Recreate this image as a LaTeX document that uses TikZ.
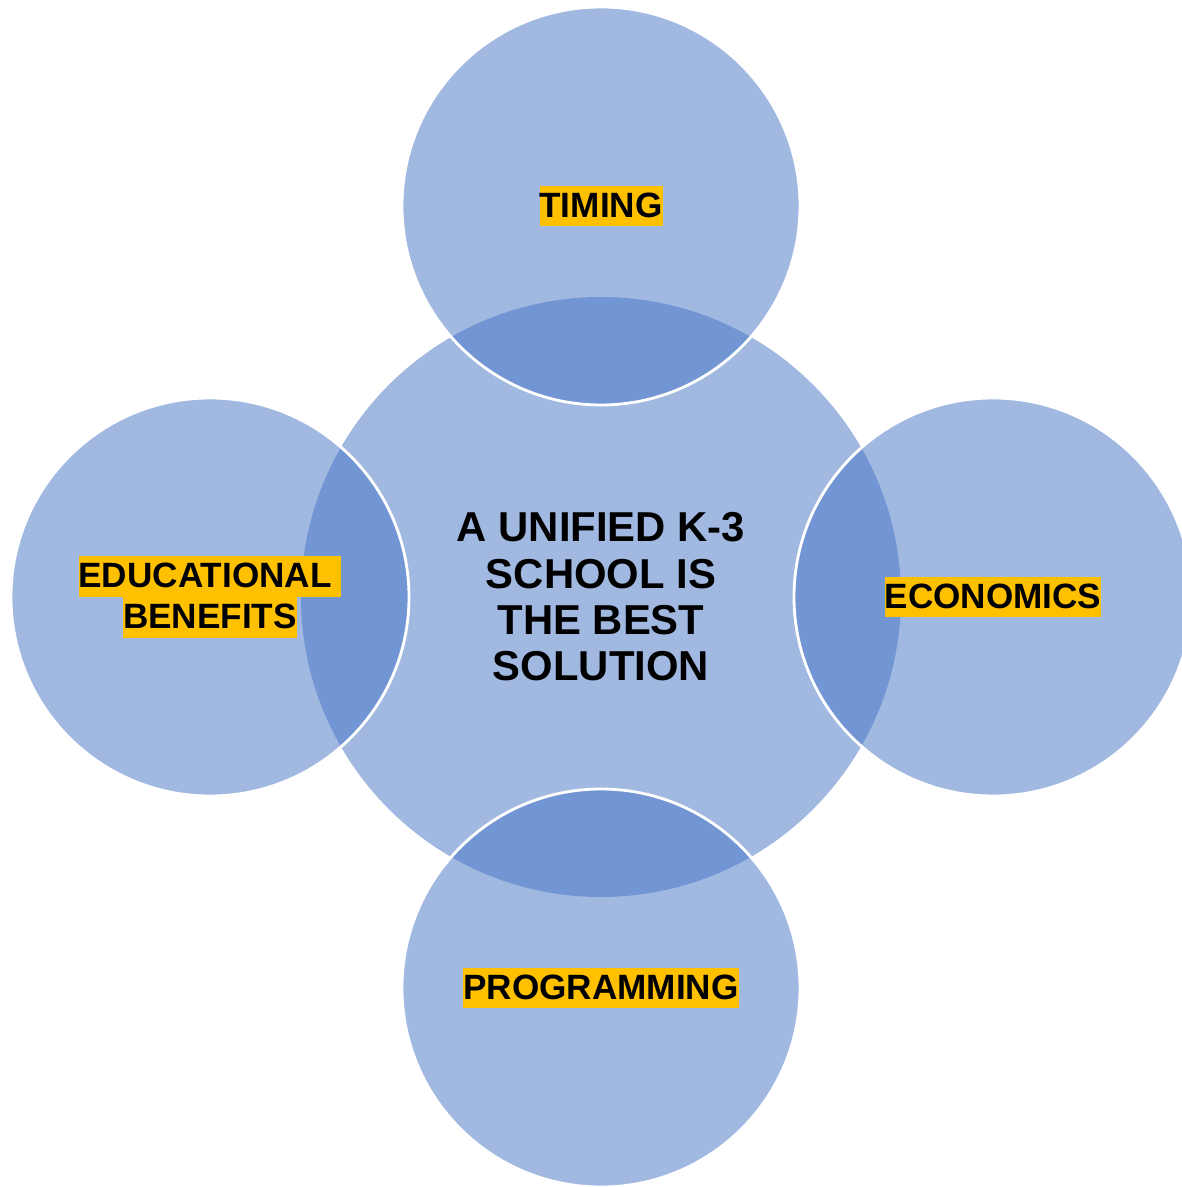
\documentclass[tikz,border=0pt]{standalone}
\usepackage{fontspec}
\setmainfont{Liberation Sans}
\usepackage{tikz}

\definecolor{circblue}{HTML}{4472C4}
\definecolor{hlyellow}{HTML}{FFC000}
\newcommand{\hlbox}[1]{{\setlength{\fboxsep}{0pt}\colorbox{hlyellow}{\rule[-2.6pt]{0pt}{11.6pt}#1}}}

\tikzset{
  hub/.style={circle, minimum size=6cm, inner sep=0pt, fill=circblue, fill opacity=0.5},
  spoke/.style={circle, minimum size=3.98cm, inner sep=0pt, fill=circblue, fill opacity=0.5, draw=white, draw opacity=1, line width=0.8pt},
  hubtext/.style={align=center, font=\fontsize{11.9pt}{13.2pt}\selectfont\bfseries},
  spoketext/.style={align=center, inner sep=0pt, font=\fontsize{10.0pt}{11.6pt}\selectfont\bfseries}
}

\begin{document}
\begin{tikzpicture}
    \useasboundingbox (-6.01,-5.90) rectangle (5.80,5.97);
    \node[hub] (S) at (0, 0){};
    \node[spoke] (T) at (0, 3.91){};
    \node[spoke] (E) at (-3.91, 0){};
    \node[spoke] (C) at (3.92, 0){};
    \node[spoke] (P) at (0, -3.91){};
    \node[hubtext] (St) at (S){A UNIFIED K-3\\SCHOOL IS\\THE BEST\\SOLUTION};
    \node[spoketext] (Tt) at (T){\hlbox{TIMING}};
    \node[spoketext] (Et) at (E){\hlbox{EDUCATIONAL\ }\\\hlbox{BENEFITS}};
    \node[spoketext] (Ct) at (C){\hlbox{ECONOMICS}};
    \node[spoketext] (Pt) at (P){\hlbox{PROGRAMMING}};
  \end{tikzpicture}
\end{document}
